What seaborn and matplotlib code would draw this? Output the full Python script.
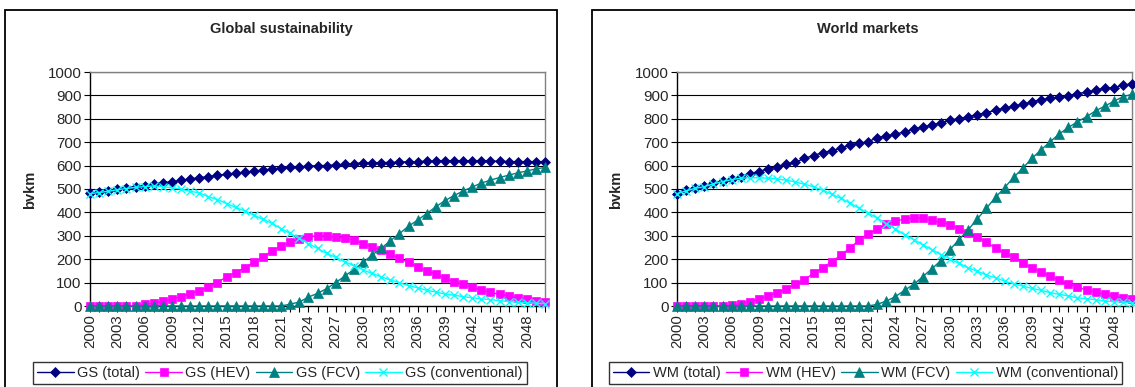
import numpy as np
import pandas as pd
import matplotlib
matplotlib.use("Agg")
import matplotlib.pyplot as plt
from matplotlib.patches import Rectangle
import seaborn as sns

years = list(range(2000, 2051))

gs_total = [481, 487, 492, 500, 505, 510, 513, 522, 527, 531,
            537, 543, 548, 553, 558, 563, 567, 571, 576, 580,
            585, 590, 592, 595, 597, 600, 600, 603, 605, 608,
            612, 612, 613, 613, 615, 616, 617, 618, 620, 621,
            621, 621, 621, 620, 620, 618, 617, 617, 617, 617, 617]
gs_hev = [0, 0, 0, 0, 0, 0, 7, 11, 20, 30,
          40, 53, 64, 82, 100, 125, 142, 164, 186, 209,
          237, 255, 272, 286, 296, 300, 300, 294, 290, 282,
          267, 253, 239, 222, 203, 186, 168, 149, 137, 118,
          104, 92, 80, 68, 58, 50, 43, 34, 28, 23, 18]
gs_fcv = [0] * 22 + [8, 17, 38, 54, 74, 100, 128, 156,
                     186, 218, 246, 279, 309, 341, 367, 395, 424, 450,
                     472, 491, 509, 525, 538, 549, 559, 569, 577, 586, 592]
gs_conv = [480, 485, 490, 497, 502, 507, 510, 513, 510, 505,
           500, 490, 484, 467, 455, 438, 421, 407, 388, 371,
           353, 331, 310, 289, 267, 246, 225, 208, 189, 172,
           154, 139, 125, 111, 100, 87, 78, 67, 60, 51,
           46, 40, 35, 31, 27, 23, 19, 16, 14, 12, 10]

wm_total = [479, 494, 504, 511, 525, 535, 543, 553, 566, 574,
            587, 596, 607, 614, 631, 643, 655, 664, 674, 687,
            695, 702, 719, 726, 733, 745, 755, 766, 773, 783,
            794, 801, 809, 818, 826, 837, 845, 854, 862, 872,
            882, 887, 894, 899, 908, 913, 922, 930, 933, 943, 950]
wm_hev = [0, 0, 0, 0, 0, 0, 4, 10, 18, 28,
          43, 57, 71, 95, 113, 139, 163, 189, 217, 248,
          281, 308, 329, 350, 362, 372, 376, 376, 366, 357,
          348, 329, 312, 295, 272, 248, 227, 209, 184, 163,
          145, 128, 109, 95, 82, 68, 60, 50, 43, 33, 28]
wm_fcv = [0] * 22 + [7, 21, 40, 67, 92, 125, 159, 194,
                     241, 284, 326, 372, 418, 464, 506, 550, 589, 631,
                     667, 702, 735, 763, 787, 809, 834, 854, 875, 894, 905]
wm_conv = [480, 492, 503, 510, 522, 532, 540, 546, 548, 548,
           546, 543, 538, 530, 520, 510, 495, 478, 460, 440,
           418, 397, 376, 352, 329, 305, 284, 262, 241, 220,
           201, 182, 163, 149, 132, 121, 106, 95, 85, 75,
           67, 57, 50, 43, 35, 31, 27, 21, 18, 17, 14]

titles = ["Global sustainability", "World markets"]
prefixes = ["GS", "WM"]
series_names = ["(total)", "(HEV)", "(FCV)", "(conventional)"]
y_ticks = list(range(0, 1001, 100))
x_tick_labels = [str(y) if (y - 2000) % 3 == 0 else "" for y in years]

colors = ["#000080", "#FF00FF", "#008080", "#00FFFF"]
markers = ["D", "s", "^", "x"]
msizes = [5.5, 6, 6.5, 5.5]

sns.set_style("white")
plt.rcParams["font.family"] = ["Liberation Sans", "DejaVu Sans"]

W, H = 1135, 387
fig = plt.figure(figsize=(W / 100, H / 100), dpi=100)

def fx(px):
    return px / W

def fy(py):
    return 1 - py / H

# outer chart frames
fig.patches.append(Rectangle((fx(5), fy(392)), fx(557 - 5), (392 - 10) / H,
                             transform=fig.transFigure, fill=False,
                             edgecolor="black", lw=1.3, zorder=0))
fig.patches.append(Rectangle((fx(592), fy(392)), fx(1145 - 592), (392 - 10) / H,
                             transform=fig.transFigure, fill=False,
                             edgecolor="black", lw=1.3, zorder=0))

plot_specs = [
    dict(left=90, right=545, ylab_x=30,
         legend=(38, 522), data=[gs_total, gs_hev, gs_fcv, gs_conv]),
    dict(left=677, right=1132, ylab_x=616,
         legend=(613, 1118), data=[wm_total, wm_hev, wm_fcv, wm_conv]),
]
title_x = [281, 868]

for k, spec in enumerate(plot_specs):
    ax = fig.add_axes([fx(spec["left"]), fy(306), fx(spec["right"] - spec["left"]),
                       (306 - 72) / H])
    for j, vals in enumerate(spec["data"]):
        df = pd.DataFrame({"year": years, "value": vals})
        sns.lineplot(data=df, x="year", y="value", ax=ax, color=colors[j],
                     marker=markers[j], markersize=msizes[j],
                     markeredgecolor=colors[j], markerfacecolor=colors[j],
                     markeredgewidth=1.0 if markers[j] == "x" else 0.5,
                     linewidth=1.0, label=f"{prefixes[k]} {series_names[j]}",
                     zorder=3 + j, clip_on=False, legend=False)
    ax.set_xlim(2000, 2050)
    ax.set_ylim(0, 1000)
    ax.set_yticks(y_ticks)
    ax.set_yticklabels([str(v) for v in y_ticks], fontsize=10.8)
    ax.set_xticks(years)
    ax.set_xticklabels(x_tick_labels, rotation=90, fontsize=10.8)
    ax.tick_params(axis="both", direction="out", length=4, width=0.8,
                   color="black", pad=2, bottom=True, left=True)
    ax.set_xlabel("")
    ax.set_ylabel("")
    ax.grid(False)
    for v in y_ticks[1:]:
        ax.axhline(v, color="black", lw=0.8, zorder=1)
    ax.spines["left"].set_color("black")
    ax.spines["bottom"].set_color("black")
    ax.spines["top"].set_color("#808080")
    ax.spines["right"].set_color("#808080")
    for s in ax.spines.values():
        s.set_linewidth(1.0)
    ax.spines["bottom"].set_zorder(2)

    fig.text(fx(title_x[k]), fy(29), titles[k], ha="center", va="center",
             fontsize=10.5, fontweight="bold")
    fig.text(fx(spec["ylab_x"]), fy(190), "bvkm", ha="center", va="center",
             rotation=90, fontsize=10.5, fontweight="bold")

    handles, labels = ax.get_legend_handles_labels()
    lx0, lx1 = spec["legend"]
    leg = fig.legend(handles, labels, loc="center",
                     bbox_to_anchor=(fx((lx0 + lx1) / 2), fy(373)),
                     ncol=4, frameon=True, fancybox=False, fontsize=10.5,
                     handlelength=2.5, handletextpad=0.25, columnspacing=0.35,
                     borderpad=0.3, borderaxespad=0.0)
    leg.get_frame().set_edgecolor("black")
    leg.get_frame().set_linewidth(1.0)

fig.savefig("out.png", dpi=100)
